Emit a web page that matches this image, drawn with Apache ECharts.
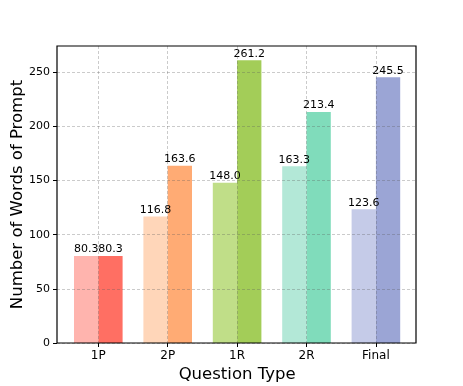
<!DOCTYPE html>
<html>
<head>
<meta charset="utf-8">
<script src="https://cdn.jsdelivr.net/npm/echarts@6/dist/echarts.min.js"></script>
<style>
  html, body { margin: 0; padding: 0; background: #fff; }
  #chart { width: 463px; height: 386px; }
</style>
</head>
<body>
<div id="chart"></div>
<script>
// data
var categories = ["1P", "2P", "1R", "2R", "Final"];
var lightValues = [80.3, 116.8, 148.0, 163.3, 123.6];
var darkValues = [80.3, 163.6, 261.2, 213.4, 245.5];
var lightColors = ["#ffb4ae", "#ffd6b9", "#c0de88", "#b3e8d7", "#c5cbe8"];
var darkColors = ["#ff6f63", "#ffab74", "#a3cd58", "#80dcbb", "#9ba5d5"];
var yTicks = [0, 50, 100, 150, 200, 250];
var yMax = 274.3;

var font = "DejaVu Sans";

function barData(values, colors) {
  return values.map(function (v, i) {
    return { value: v, itemStyle: { color: colors[i] } };
  });
}

var labelStyle = {
  show: true,
  position: "top",
  distance: 1,
  fontFamily: font,
  fontSize: 11,
  color: "#000",
  formatter: function (p) { return p.value.toFixed(1); }
};

var gridLine = { color: "rgba(90,90,90,0.4)", width: 0.8, type: [3, 2] };

var chart = echarts.init(document.getElementById("chart"));
chart.setOption({
  animation: false,
  backgroundColor: "#fff",
  grid: [
    // frame + y axis
    { left: 57, top: 46, right: 47, bottom: 43, show: true, z: 5,
      borderColor: "#000", borderWidth: 1.2, backgroundColor: "transparent",
      outerBoundsMode: "none" },
    // bars, categories
    { left: 63.6, top: 46, right: 52.4, bottom: 43, outerBoundsMode: "none" }
  ],
  xAxis: [
    { gridIndex: 0, type: "value", show: false, min: 0, max: 1 },
    {
      gridIndex: 1,
      type: "category",
      data: categories,
      z: 4,
      name: "Question Type",
      nameLocation: "middle",
      nameGap: 23,
      nameMoveOverlap: false,
      nameTextStyle: { fontFamily: font, fontSize: 16.5, color: "#000" },
      axisLine: { show: false },
      axisTick: { show: true, alignWithLabel: true, length: 4, lineStyle: { color: "#000", width: 1 } },
      axisLabel: { fontFamily: font, fontSize: 12, color: "#000", margin: 7 },
      splitLine: { show: true, alignWithLabel: true, lineStyle: gridLine }
    }
  ],
  yAxis: [
    {
      gridIndex: 0,
      type: "value",
      min: 0,
      max: yMax,
      interval: 50,
      z: 4,
      name: "Number of Words of Prompt",
      nameLocation: "middle",
      nameGap: 31,
      nameMoveOverlap: false,
      nameTextStyle: { fontFamily: font, fontSize: 16.5, color: "#000" },
      axisLine: { show: false },
      axisTick: { show: true, length: 4, customValues: yTicks, lineStyle: { color: "#000", width: 1 } },
      axisLabel: { fontFamily: font, fontSize: 11, color: "#000", margin: 7, customValues: yTicks },
      splitLine: { show: true, lineStyle: gridLine }
    },
    { gridIndex: 1, type: "value", min: 0, max: yMax, show: false }
  ],
  series: [
    {
      type: "bar",
      xAxisIndex: 1,
      yAxisIndex: 1,
      barWidth: 24.3,
      barGap: "0%",
      data: barData(lightValues, lightColors),
      label: labelStyle
    },
    {
      type: "bar",
      xAxisIndex: 1,
      yAxisIndex: 1,
      barWidth: 24.3,
      barGap: "0%",
      data: barData(darkValues, darkColors),
      label: labelStyle
    }
  ]
});
</script>
</body>
</html>
